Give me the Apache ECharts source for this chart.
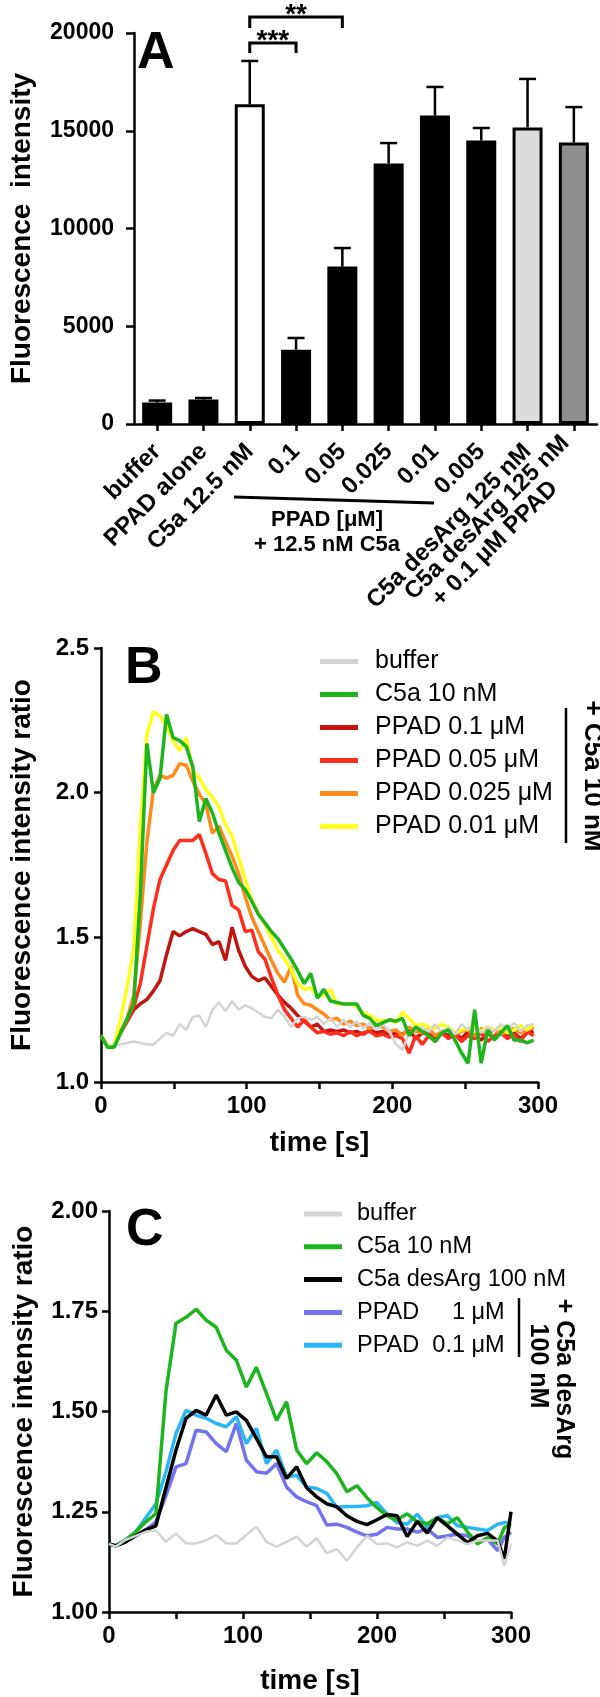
<!DOCTYPE html>
<html><head><meta charset="utf-8">
<script src="https://cdn.jsdelivr.net/npm/echarts@6/dist/echarts.min.js"></script>
<style>html,body{margin:0;padding:0;background:#fff}#c{width:600px;height:1697px}</style>
</head><body><div id="c"></div><script>
// ---------- Panel A data ----------
const catsA = ['buffer','PPAD alone','C5a 12.5 nM','0.1','0.05','0.025','0.01','0.005','C5a desArg 125 nM','C5a desArg 125 nM\n+ 0.1 μM PPAD      '];
const meanA = [1100,1250,16350,3800,8050,13330,15780,14500,15170,14400];
const semA  = [100,80,2220,600,950,1040,1460,640,2480,1810];
const sigA  = [{from:2,to:3,top:19490,leg:18980,label:'***'},{from:2,to:4,top:20820,leg:20260,label:'**'}];
const ticksA = [0,5000,10000,15000,20000];

// ---------- Panel B data ----------
const tB = [0,4.5,9,13.5,18,22.5,27,31.5,36,40.5,45,49.5,54,58.5,63,67.5,72,76.5,81,85.5,90,94.5,99,103.5,108,112.5,117,121.5,126,130.5,135,139.5,144,148.5,153,157.5,162,166.5,171,175.5,180,184.5,189,193.5,198,202.5,207,211.5,216,220.5,225,229.5,234,238.5,243,247.5,252,256.5,261,265.5,270,274.5,279,283.5,288,292.5,297];
const bufferB = [1.16,1.125,1.125,1.13,1.135,1.14,1.135,1.13,1.13,1.15,1.17,1.16,1.20,1.18,1.225,1.23,1.19,1.25,1.275,1.245,1.28,1.25,1.265,1.255,1.24,1.225,1.22,1.25,1.225,1.19,1.22,1.225,1.215,1.225,1.20,1.22,1.19,1.215,1.19,1.21,1.185,1.205,1.18,1.20,1.175,1.13,1.11,1.17,1.18,1.19,1.175,1.20,1.17,1.19,1.165,1.2,1.18,1.205,1.17,1.19,1.175,1.2,1.18,1.205,1.175,1.195,1.2];
const c5aB = [1.16,1.12,1.12,1.17,1.22,1.27,1.65,2.17,2.00,2.05,2.27,2.19,2.18,2.16,2.09,1.90,1.98,1.93,1.86,1.80,1.74,1.69,1.665,1.625,1.58,1.55,1.52,1.495,1.46,1.425,1.385,1.34,1.375,1.29,1.32,1.28,1.275,1.27,1.27,1.27,1.23,1.22,1.195,1.205,1.215,1.21,1.22,1.16,1.19,1.175,1.16,1.14,1.17,1.18,1.145,1.10,1.065,1.25,1.065,1.18,1.145,1.17,1.195,1.145,1.145,1.135,1.145];
const ppad01B = [1.16,1.125,1.125,1.175,1.21,1.25,1.27,1.285,1.315,1.35,1.44,1.52,1.505,1.52,1.53,1.52,1.51,1.475,1.485,1.42,1.535,1.455,1.40,1.365,1.35,1.36,1.33,1.30,1.275,1.255,1.23,1.21,1.19,1.20,1.175,1.18,1.175,1.18,1.17,1.175,1.165,1.18,1.17,1.175,1.16,1.17,1.165,1.18,1.15,1.17,1.165,1.15,1.175,1.16,1.17,1.15,1.175,1.16,1.145,1.17,1.15,1.175,1.16,1.17,1.15,1.17,1.175];
const ppad005B = [1.16,1.125,1.125,1.17,1.21,1.26,1.34,1.47,1.60,1.70,1.75,1.80,1.835,1.835,1.835,1.855,1.79,1.72,1.70,1.695,1.61,1.595,1.52,1.525,1.45,1.425,1.36,1.30,1.25,1.22,1.19,1.215,1.19,1.17,1.175,1.165,1.17,1.16,1.175,1.16,1.17,1.175,1.16,1.165,1.155,1.16,1.15,1.10,1.16,1.13,1.16,1.14,1.17,1.15,1.165,1.14,1.16,1.15,1.17,1.14,1.16,1.17,1.15,1.165,1.14,1.175,1.16];
const ppad0025B = [1.16,1.125,1.125,1.17,1.22,1.30,1.55,1.83,2.01,2.06,2.05,2.06,2.10,2.095,2.04,1.995,1.96,1.86,1.885,1.83,1.78,1.72,1.64,1.57,1.52,1.47,1.42,1.375,1.345,1.40,1.30,1.27,1.265,1.25,1.235,1.215,1.22,1.20,1.21,1.195,1.20,1.185,1.20,1.19,1.175,1.18,1.16,1.19,1.175,1.17,1.185,1.16,1.175,1.18,1.165,1.175,1.18,1.16,1.185,1.17,1.18,1.165,1.175,1.185,1.17,1.18,1.19];
const ppad001B = [1.16,1.125,1.125,1.22,1.33,1.46,1.88,2.20,2.28,2.265,2.23,2.18,2.145,2.19,2.075,2.05,2.01,1.985,1.95,1.89,1.85,1.775,1.70,1.63,1.585,1.545,1.50,1.455,1.425,1.39,1.34,1.32,1.325,1.30,1.30,1.32,1.27,1.27,1.27,1.26,1.24,1.23,1.215,1.21,1.215,1.205,1.24,1.22,1.195,1.20,1.19,1.185,1.20,1.19,1.17,1.18,1.185,1.19,1.175,1.19,1.18,1.19,1.17,1.18,1.195,1.18,1.20];

// ---------- Panel C data ----------
const tC = [0,5,12.5,20,27.5,35,42.5,50,57.5,65,72.5,80,87.5,95,102.5,110,117.5,125,132.5,140,147.5,155,162.5,170,177.5,185,192.5,200,207.5,215,222.5,230,237.5,245,252.5,260,267.5,275,282.5,290,295,300];
const bufferC = [1.17,1.163,1.18,1.19,1.20,1.204,1.175,1.196,1.171,1.171,1.179,1.192,1.171,1.171,1.192,1.213,1.175,1.163,1.175,1.188,1.163,1.184,1.146,1.157,1.128,1.161,1.19,1.169,1.171,1.161,1.174,1.165,1.178,1.165,1.186,1.178,1.169,1.178,1.178,1.178,1.115,1.169];
const c5aC = [1.17,1.165,1.18,1.20,1.225,1.245,1.55,1.72,1.735,1.755,1.728,1.71,1.653,1.628,1.561,1.61,1.545,1.478,1.524,1.404,1.37,1.397,1.375,1.345,1.30,1.315,1.285,1.26,1.24,1.23,1.245,1.225,1.22,1.235,1.22,1.235,1.20,1.17,1.185,1.17,1.21,1.22];
const desArgC = [1.17,1.165,1.175,1.19,1.205,1.215,1.31,1.404,1.483,1.503,1.491,1.541,1.491,1.499,1.478,1.433,1.387,1.387,1.333,1.362,1.31,1.287,1.27,1.262,1.24,1.226,1.218,1.23,1.243,1.24,1.188,1.226,1.197,1.235,1.215,1.194,1.173,1.19,1.196,1.177,1.133,1.25];
const ppad1C = [1.17,1.165,1.175,1.19,1.205,1.225,1.29,1.362,1.37,1.453,1.449,1.42,1.40,1.47,1.379,1.35,1.346,1.37,1.312,1.287,1.275,1.265,1.217,1.219,1.211,1.199,1.19,1.194,1.211,1.207,1.207,1.199,1.207,1.186,1.19,1.194,1.19,1.174,1.182,1.153,1.186,1.199];
const ppad01C = [1.17,1.165,1.18,1.20,1.235,1.27,1.35,1.445,1.503,1.491,1.483,1.47,1.462,1.487,1.42,1.458,1.37,1.404,1.337,1.341,1.312,1.308,1.296,1.261,1.263,1.263,1.265,1.273,1.244,1.223,1.219,1.244,1.211,1.236,1.24,1.215,1.211,1.207,1.203,1.219,1.223,1.223];

// ---------- styling ----------
const FONT = '"Liberation Sans", Arial, sans-serif';
const barFillA = ['#000','#000','#fff','#000','#000','#000','#000','#000','#dcdcdc','#8e8e8e'];
const AX = {lineStyle:{color:'#000', width:2.5}};
function tick(len){ return {show:true, length:len, lineStyle:{color:'#000', width:2.5}}; }
function lbl(size, margin){ return {color:'#000', fontSize:size, fontWeight:'bold', fontFamily:FONT, margin:margin}; }
const titleStyle = {color:'#000', fontSize:28, fontWeight:'bold', fontFamily:FONT};
const pair = (t, v) => t.map((x, i) => [x, v[i]]);

function lineSeries(name, xi, t, v, color, w){
  return {type:'line', name:name, xAxisIndex:xi, yAxisIndex:xi, data:pair(t, v), showSymbol:false, symbol:'none',
    color:color, lineStyle:{color:color, width:w}, emphasis:{disabled:true}};
}

const chart = echarts.init(document.getElementById('c'), null, {renderer:'canvas'});
const option = {
  animation:false,
  backgroundColor:'#fff',
  grid:[
    {left:123, top:33, width:474, height:391},
    {left:101, top:648, width:437, height:434},
    {left:109, top:1211, width:402, height:401}
  ],
  xAxis:[
    {gridIndex:0, type:'category', data:catsA, axisLine:AX, axisTick:Object.assign(tick(7),{alignWithLabel:true}),
     axisLabel:Object.assign(lbl(24, 24), {rotate:45, interval:0}), splitLine:{show:false}},
    {gridIndex:1, type:'value', min:0, max:300, interval:50, axisLine:AX, axisTick:tick(7), splitLine:{show:false},
     axisLabel:Object.assign(lbl(24, 12), {formatter:v => (v % 100 === 0 ? String(v) : '')}),
     name:'time [s]', nameLocation:'middle', nameGap:47, nameTextStyle:titleStyle},
    {gridIndex:2, type:'value', min:0, max:300, interval:50, axisLine:AX, axisTick:tick(7), splitLine:{show:false},
     axisLabel:Object.assign(lbl(24, 12), {formatter:v => (v % 100 === 0 ? String(v) : '')}),
     name:'time [s]', nameLocation:'middle', nameGap:55, nameTextStyle:titleStyle}
  ],
  yAxis:[
    {gridIndex:0, type:'value', min:ticksA[0], max:ticksA[ticksA.length-1], interval:5000, axisLine:Object.assign({show:true},AX), axisTick:tick(8),
     splitLine:{show:false}, axisLabel:Object.assign(lbl(23, 20), {formatter:v => String(v)}),
     name:'Fluorescence  intensity', nameLocation:'middle', nameGap:98, nameTextStyle:titleStyle},
    {gridIndex:1, type:'value', min:1, max:2.5, interval:0.5, axisLine:Object.assign({show:true},AX), axisTick:tick(7),
     splitLine:{show:false}, axisLabel:Object.assign(lbl(24, 12), {formatter:v => v.toFixed(1)}),
     name:'Fluorescence intensity ratio', nameLocation:'middle', nameGap:65, nameTextStyle:titleStyle},
    {gridIndex:2, type:'value', min:1, max:2, interval:0.25, axisLine:Object.assign({show:true},AX), axisTick:tick(7),
     splitLine:{show:false}, axisLabel:Object.assign(lbl(24, 11), {formatter:v => v.toFixed(2)}),
     name:'Fluorescence intensity ratio', nameLocation:'middle', nameGap:71, nameTextStyle:titleStyle}
  ],
  legend:[
    {orient:'vertical', left:320, top:649, itemWidth:38, itemHeight:5, itemGap:8, icon:'rect', padding:0, selectedMode:false,
     textStyle:{fontSize:25, fontFamily:FONT, color:'#000', padding:[0,0,0,12]},
     data:['buffer','C5a 10 nM','PPAD 0.1 μM','PPAD 0.05 μM','PPAD 0.025 μM','PPAD 0.01 μM']},
    {orient:'vertical', left:304, top:1202, itemWidth:38, itemHeight:5, itemGap:8.8, icon:'rect', padding:0, selectedMode:false,
     textStyle:{fontSize:23.5, fontFamily:FONT, color:'#000', padding:[0,0,0,10]},
     data:['buffer','C5a 10 nM','C5a desArg 100 nM','PPAD     1 μM','PPAD  0.1 μM']}
  ],
  series:[
    {type:'custom', xAxisIndex:0, yAxisIndex:0, z:1, data:meanA.map((m,i)=>[i, m, m+semA[i]]),
     encode:{x:0, y:[1,2]},
     renderItem:(p, api)=>{
       const x = api.value(0);
       const a = api.coord([x, api.value(1)]), b = api.coord([x, api.value(2)]);
       const st = {stroke:'#000', lineWidth:2.5};
       return {type:'group', children:[
         {type:'line', shape:{x1:a[0],y1:a[1],x2:b[0],y2:b[1]}, style:st},
         {type:'line', shape:{x1:b[0]-8.5,y1:b[1],x2:b[0]+8.5,y2:b[1]}, style:st}
       ]};
     }},
    {type:'bar', xAxisIndex:0, yAxisIndex:0, z:2, barWidth:30,
     data:meanA.map((m,i)=>({value:m, itemStyle:{color:barFillA[i], borderColor:'#000', borderWidth:3}}))},
    {type:'custom', xAxisIndex:0, yAxisIndex:0, z:3, clip:false, data:sigA.map(s=>[s.from, s.to, s.top, s.leg]),
     encode:{x:[0,1], y:[2,3]},
     renderItem:(p, api)=>{
       const s = sigA[p.dataIndex];
       const a = api.coord([s.from, s.leg]), b = api.coord([s.from, s.top]), c = api.coord([s.to, s.top]), d = api.coord([s.to, s.leg]);
       return {type:'group', children:[
         {type:'polyline', shape:{points:[a,b,c,d]}, style:{stroke:'#000', lineWidth:3, fill:null}},
         {type:'text', x:(b[0]+c[0])/2, y:b[1]-2, style:{text:s.label, font:'bold 28px ' + FONT, fill:'#000', align:'center', verticalAlign:'middle'}}
       ]};
     }},
    lineSeries('PPAD 0.1 μM', 1, tB, ppad01B, '#c0160f', 3.5),
    lineSeries('PPAD 0.05 μM', 1, tB, ppad005B, '#ff2d1c', 3.5),
    lineSeries('PPAD 0.025 μM', 1, tB, ppad0025B, '#ff8a1e', 3.5),
    lineSeries('PPAD 0.01 μM', 1, tB, ppad001B, '#ffff1e', 3.5),
    lineSeries('buffer', 1, tB, bufferB, '#d4d4d4', 2.5),
    lineSeries('C5a 10 nM', 1, tB, c5aB, '#1db51d', 3.5),
    lineSeries('PPAD     1 μM', 2, tC, ppad1C, '#7373ee', 3.5),
    lineSeries('PPAD  0.1 μM', 2, tC, ppad01C, '#2bb6f4', 3.5),
    lineSeries('C5a 10 nM', 2, tC, c5aC, '#1db51d', 3.5),
    lineSeries('C5a desArg 100 nM', 2, tC, desArgC, '#000000', 3.5),
    lineSeries('buffer', 2, tC, bufferC, '#d4d4d4', 2.5)
  ],
  graphic:[
    {type:'text', left:137, top:28, style:{text:'A', font:'bold 52px ' + FONT, fill:'#000'}},
    {type:'text', left:125, top:643, style:{text:'B', font:'bold 52px ' + FONT, fill:'#000'}},
    {type:'text', left:126, top:1205, style:{text:'C', font:'bold 52px ' + FONT, fill:'#000'}},
    {type:'line', shape:{x1:234, y1:497, x2:434, y2:503}, style:{stroke:'#000', lineWidth:3}},
    {type:'text', x:327, y:520, style:{text:'PPAD [μM]', font:'bold 22px ' + FONT, fill:'#000', align:'center', verticalAlign:'middle'}},
    {type:'text', x:327, y:545, style:{text:'+ 12.5 nM C5a', font:'bold 22px ' + FONT, fill:'#000', align:'center', verticalAlign:'middle'}},
    {type:'line', shape:{x1:566, y1:708, x2:566, y2:843}, style:{stroke:'#000', lineWidth:2.5}},
    {type:'text', x:592, y:776, rotation:-Math.PI/2, style:{text:'+ C5a 10 nM', font:'bold 26px ' + FONT, fill:'#000', align:'center', verticalAlign:'middle'}},
    {type:'line', shape:{x1:519, y1:1298, x2:519, y2:1357}, style:{stroke:'#000', lineWidth:2.5}},
    {type:'text', x:564, y:1379, rotation:-Math.PI/2, style:{text:'+ C5a desArg', font:'bold 25px ' + FONT, fill:'#000', align:'center', verticalAlign:'middle'}},
    {type:'text', x:538, y:1366, rotation:-Math.PI/2, style:{text:'100 nM', font:'bold 25px ' + FONT, fill:'#000', align:'center', verticalAlign:'middle'}}
  ]
};
chart.setOption(option);
</script></body></html>
